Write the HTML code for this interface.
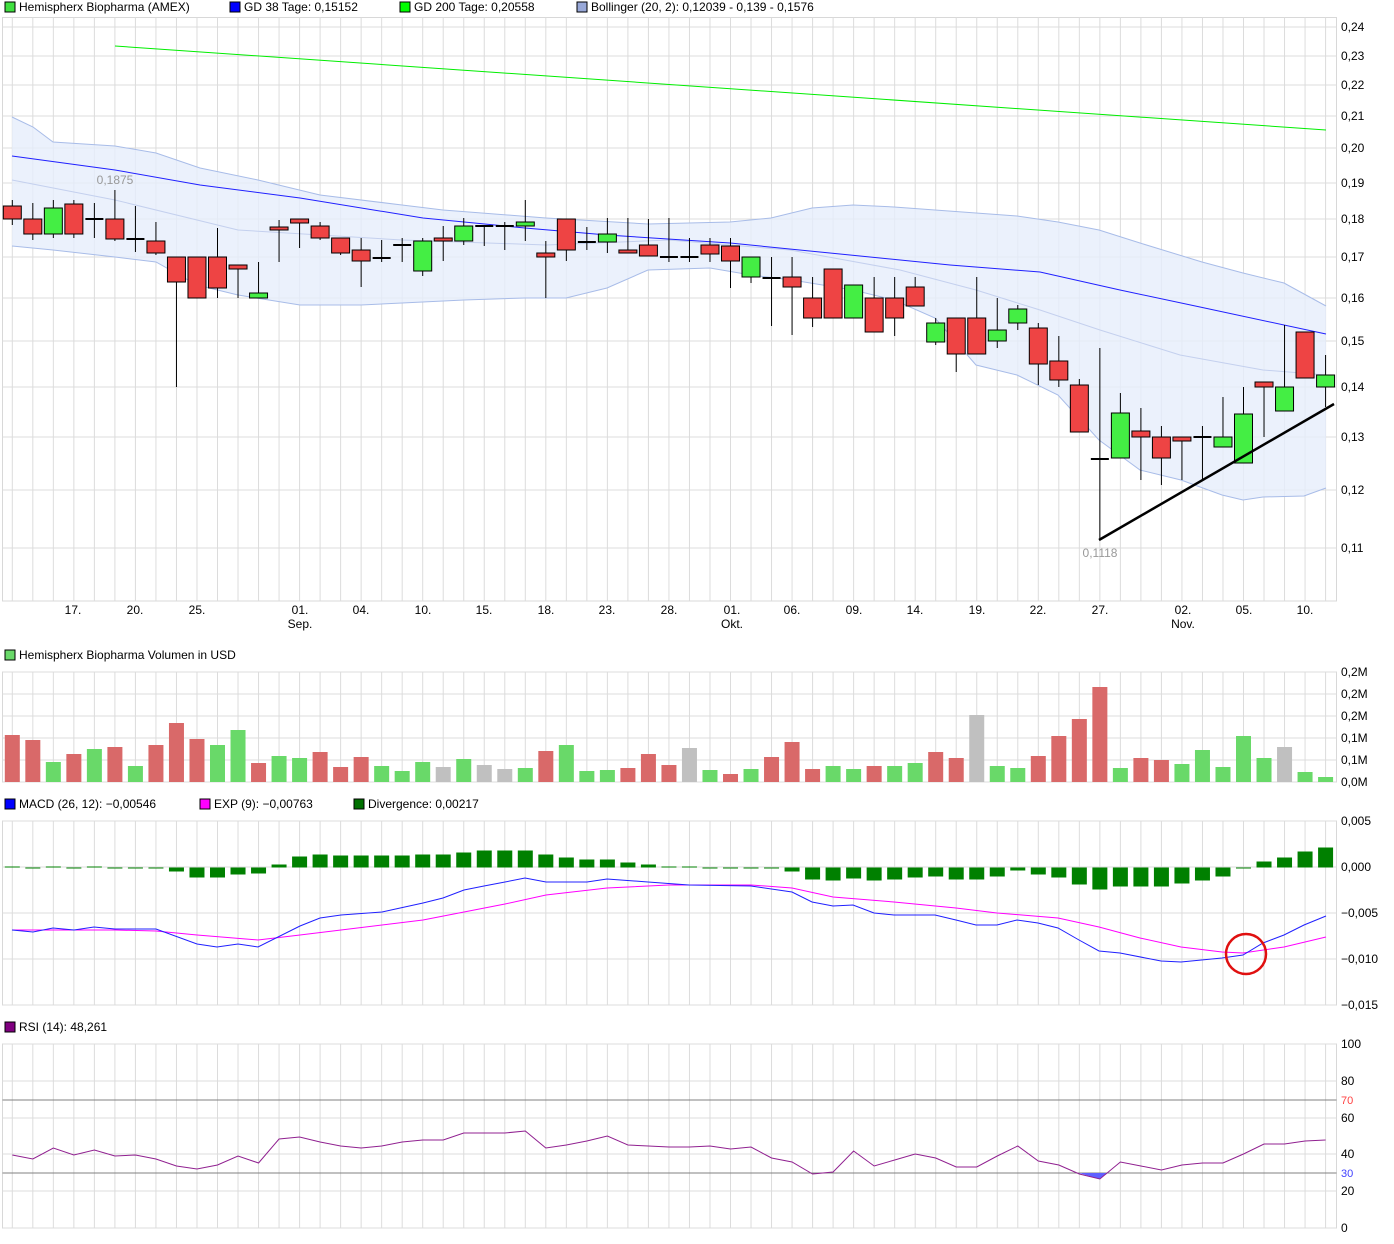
<!DOCTYPE html>
<html><head><meta charset="utf-8"><style>
body{margin:0;background:#fff;}
svg{display:block;font-family:"Liberation Sans",sans-serif;}
</style></head><body>
<svg id="s" width="1394" height="1244" xmlns="http://www.w3.org/2000/svg"></svg>
<script>
const s=document.getElementById('s');let h='';
const X=i=>12.3+i*20.52;
const N=65,L=2.5,R=1336.5;
function grid(t,b,ys){
  h+=`<rect x="${L}" y="${t}" width="${R-L}" height="${b-t}" fill="#fff" stroke="#d8d8d8"/>`;
  for(let i=0;i<N;i++)h+=`<line x1="${X(i)}" y1="${t}" x2="${X(i)}" y2="${b}" stroke="#dcdcdc"/>`;
  ys.forEach(y=>h+=`<line x1="${L}" y1="${y}" x2="${R}" y2="${y}" stroke="#dcdcdc"/>`);
}
function txt(x,y,t,c='#000',a='start',fs=12){h+=`<text x="${x}" y="${y}" fill="${c}" font-size="${fs}" text-anchor="${a}">${t}</text>`;}
function leg(x,y,c,t){h+=`<rect x="${x}" y="${y-9}" width="10" height="10" fill="${c}" stroke="#000"/>`;txt(x+14,y,t);}
function pl(pts,c,w=1,f='none'){h+=`<polyline points="${pts.map(p=>p.join(',')).join(' ')}" fill="${f}" stroke="${c}" stroke-width="${w}"/>`;}
// main
const py=[[27,'0,24'],[56,'0,23'],[85,'0,22'],[116,'0,21'],[148,'0,20'],[183,'0,19'],[219,'0,18'],[257,'0,17'],[298,'0,16'],[341,'0,15'],[387,'0,14'],[437,'0,13'],[490,'0,12'],[548,'0,11']];
grid(17.5,601,py.map(p=>p[0]));
py.forEach(p=>txt(1341,p[0]+4,p[1]));
leg(5,11,'#40e040','Hemispherx Biopharma (AMEX)');leg(230,11,'#0000ff','GD 38 Tage: 0,15152');leg(400,11,'#00ff00','GD 200 Tage: 0,20558');leg(577,11,'#98a8d8','Bollinger (20, 2): 0,12039 - 0,139 - 0,1576');
const up=[[12,117],[33,127],[53,142],[115,146],[156,153],[200,168],[258,180],[320,195],[402,205],[443,210],[546,218],[648,224],[730,222],[771,218],[812,208],[853,205],[894,207],[935,210],[976,213],[1017,216],[1058,222],[1099,230],[1140,243],[1202,262],[1243,273],[1284,283],[1326,306]];
const lo=[[12,246],[53,250],[115,257],[156,262],[197,285],[238,295],[300,305],[361,305],[402,303],[464,300],[525,298],[566,298],[607,288],[648,270],[710,268],[751,275],[792,280],[853,290],[894,300],[935,318],[976,365],[1017,375],[1058,395],[1099,440],[1140,470],[1181,480],[1222,495],[1243,500],[1263,497],[1304,496],[1326,488]];
h+=`<polygon points="${up.concat(lo.slice().reverse()).map(p=>p.join(',')).join(' ')}" fill="#e6eefb" fill-opacity="0.8"/>`;
pl(up,'#a8bce8');pl(lo,'#a8bce8');
pl([[12,180],[115,200],[238,230],[402,240],[546,245],[669,240],[790,250],[900,270],[976,290],[1040,310],[1100,330],[1180,355],[1263,370],[1326,375]],'#c4d0ee');
pl([[115,46],[1326,130]],'#00ee00');
pl([[12,156],[115,170],[200,185],[300,198],[423,218],[525,228],[607,235],[730,243],[850,255],[950,265],[1040,272],[1120,290],[1200,307],[1326,334]],'#2020ff');
const C=[[206,219,200,225,'r'],[219,234,203,240,'r'],[208,234,200,238,'g'],[204,234,200,238,'r'],[219,219,203,238,'d'],[219,239,190,241,'r'],[239,239,206,252,'d'],[241,253,222,255,'r'],[257,282,257,387,'r'],[257,298,257,298,'r'],[257,288,228,298,'r'],[265,269,265,298,'r'],[293,298,262,298,'g'],[227,230,220,262,'r'],[219,223,219,248,'r'],[226,238,222,240,'r'],[238,253,238,255,'r'],[250,261,238,287,'r'],[258,258,240,262,'d'],[245,245,238,262,'d'],[241,271,238,276,'g'],[238,241,226,261,'r'],[226,241,218,245,'g'],[226,226,226,246,'d'],[226,226,222,250,'d'],[222,226,200,241,'g'],[253,257,241,298,'r'],[219,250,219,261,'r'],[242,242,227,250,'d'],[234,242,218,253,'g'],[250,253,218,253,'r'],[245,256,219,256,'r'],[257,257,218,262,'d'],[257,257,238,262,'d'],[245,254,238,262,'r'],[246,261,238,288,'r'],[257,277,257,283,'g'],[278,278,257,326,'d'],[277,287,257,335,'r'],[298,318,277,327,'r'],[269,318,269,318,'r'],[285,318,285,318,'g'],[298,332,277,332,'r'],[298,318,277,336,'r'],[287,306,277,306,'r'],[323,342,318,345,'g'],[318,354,318,372,'r'],[318,354,277,354,'r'],[330,341,298,348,'g'],[309,323,305,330,'g'],[328,364,323,385,'r'],[361,380,336,387,'r'],[385,432,379,432,'r'],[459,459,348,540,'d'],[413,458,393,458,'g'],[431,437,408,480,'r'],[437,458,426,485,'r'],[437,441,437,480,'r'],[437,437,426,480,'d'],[437,447,397,447,'g'],[414,463,387,463,'g'],[382,387,382,437,'r'],[387,411,325,411,'g'],[332,378,332,378,'r'],[375,387,355,407,'g']];
C.forEach((c,i)=>{const x=X(i);h+=`<line x1="${x}" y1="${c[2]}" x2="${x}" y2="${c[3]}" stroke="#000"/>`;
 if(c[4]=='d')h+=`<line x1="${x-9}" y1="${c[0]}" x2="${x+9}" y2="${c[0]}" stroke="#000" stroke-width="2"/>`;
 else h+=`<rect x="${x-9}" y="${c[0]}" width="18" height="${Math.max(c[1]-c[0],3)}" fill="${c[4]=='r'?'#ee4444':'#44ee44'}" stroke="#000"/>`;});
h+=`<line x1="1099" y1="540" x2="1334" y2="404" stroke="#000" stroke-width="2.5"/>`;
txt(115,184,'0,1875','#999','middle');txt(1100,557,'0,1118','#999','middle');
const xl=[[73,'17.'],[135,'20.'],[197,'25.'],[300,'01.','Sep.'],[361,'04.'],[423,'10.'],[484,'15.'],[546,'18.'],[607,'23.'],[669,'28.'],[732,'01.','Okt.'],[792,'06.'],[854,'09.'],[915,'14.'],[977,'19.'],[1038,'22.'],[1100,'27.'],[1183,'02.','Nov.'],[1244,'05.'],[1305,'10.']];
xl.forEach(l=>{txt(l[0],614,l[1],'#000','middle');if(l[2])txt(l[0],628,l[2],'#000','middle');});
// volume
const vy=[[672,'0,2M'],[694,'0,2M'],[716,'0,2M'],[738,'0,1M'],[760,'0,1M'],[782,'0,0M']];
grid(672,782,vy.map(p=>p[0]));vy.forEach(p=>txt(1341,p[0]+4,p[1]));
leg(5,659,'#69d969','Hemispherx Biopharma Volumen in USD');
const V='735r740r762g754r749g747r766g745r723r739r745g730g763r756g758g752r767r757r766g771g762g767a759g765a769a768g751r745g771g770g768r754r765r748a770g774r769g757r742r769r766g769g766r766g763g752r758r715a766g768g756r736r719r687r768g758r760r764g750g767g736g758g747a772g777g'.match(/\d+[rga]/g);
V.forEach((v,i)=>{const y=+v.slice(0,-1),c={r:'#d96969',g:'#69d969',a:'#c0c0c0'}[v.slice(-1)];h+=`<rect x="${X(i)-7.5}" y="${y}" width="15" height="${782-y}" fill="${c}"/>`;});
// MACD
const my=[[821,'0,005'],[867,'0,000'],[913,'−0,005'],[959,'−0,010'],[1005,'−0,015']];
grid(821,1005,my.map(p=>p[0]));my.forEach(p=>txt(1341,p[0]+4,p[1]));
leg(5,808,'#0000ff','MACD (26, 12): −0,00546');leg(200,808,'#ff00ff','EXP (9): −0,00763');leg(354,808,'#007000','Divergence: 0,00217');
const D=[-1,1,-1,0,-1,0,0,1,4,10,10,7,6,-3,-11,-13,-12,-12,-12,-12,-13,-13,-15,-17,-17,-17,-13,-10,-8,-8,-5,-3,-1,-1,0,0,0,1,4,12,13,11,13,12,10,9,12,12,9,3,7,10,17,22,19,19,19,16,13,9,1,-6,-10,-16,-20];
D.forEach((d,i)=>{const y0=867.5;h+=`<rect x="${X(i)-7.5}" y="${d<0?y0+d:y0}" width="15" height="${Math.max(Math.abs(d),1)}" fill="#008000"/>`;});
pl([[12,937],[115,930],[156,931],[197,935],[258,940],[300,935],[341,930],[423,920],[505,904],[546,895],[607,888],[669,885],[751,885],[792,888],[833,897],[894,902],[956,908],[997,913],[1058,918],[1099,927],[1140,938],[1181,947],[1222,952],[1243,953],[1284,947],[1326,937]].map((p,i)=>i==0?[12,930]:p),'#ff00ff');
pl([[12,930],[33,932],[53,928],[74,930],[94,927],[115,929],[156,929],[197,944],[217,947],[238,944],[258,947],[300,926],[320,918],[341,915],[382,912],[423,903],[443,898],[464,890],[484,886],[505,882],[525,878],[546,882],[587,882],[607,879],[648,882],[689,885],[751,886],[792,892],[812,902],[833,906],[853,905],[874,913],[894,915],[935,915],[956,920],[976,925],[997,925],[1017,920],[1038,923],[1058,928],[1079,940],[1099,951],[1120,953],[1161,961],[1181,962],[1222,958],[1243,955],[1263,943],[1284,935],[1304,925],[1326,916]],'#2020ff');
h+=`<circle cx="1246" cy="954" r="20" fill="none" stroke="#e01010" stroke-width="2.5"/>`;
// RSI
const ry=[[1044,'100'],[1081,'80'],[1118,'60'],[1154,'40'],[1191,'20'],[1228,'0']];
grid(1044,1228,ry.map(p=>p[0]));ry.forEach(p=>txt(1341,p[0]+4,p[1]));
txt(1341,1104,'70','#ff4040','start',11);txt(1341,1177,'30','#4040ff','start',11);
h+=`<line x1="${L}" y1="1100" x2="${R}" y2="1100" stroke="#808080"/><line x1="${L}" y1="1173" x2="${R}" y2="1173" stroke="#808080"/>`;
leg(5,1031,'#800080','RSI (14): 48,261');
const RS=[1155,1159,1148,1155,1150,1156,1155,1159,1166,1169,1165,1156,1163,1139,1137,1142,1146,1148,1146,1142,1140,1140,1133,1133,1133,1131,1148,1145,1141,1136,1145,1146,1147,1147,1146,1149,1147,1158,1162,1174,1172,1151,1166,1160,1154,1158,1167,1167,1156,1146,1161,1165,1174,1179,1162,1166,1170,1165,1163,1163,1154,1144,1144,1141,1140];
h+=`<polygon points="1079,1173 1099,1179 1108,1173" fill="#6060ff"/>`;
pl(RS.map((y,i)=>[X(i),y]),'#902090');
s.innerHTML=h;
</script>
</body></html>
